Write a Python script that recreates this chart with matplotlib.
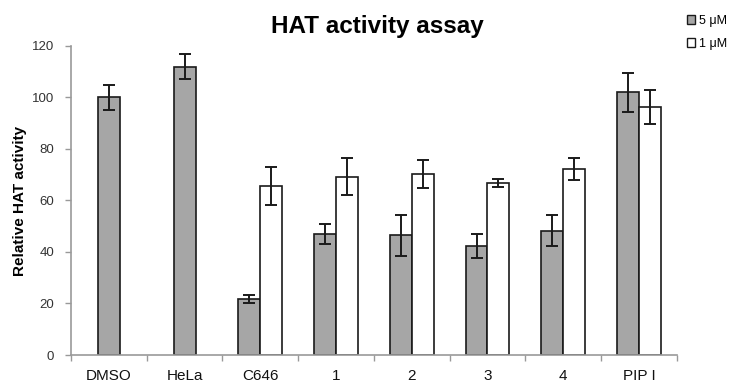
import matplotlib
matplotlib.use("Agg")
import matplotlib.pyplot as plt
import numpy as np
from matplotlib.patches import Patch

plt.rcParams['font.family'] = ['Liberation Sans', 'DejaVu Sans']

categories = ["DMSO", "HeLa", "C646", "1", "2", "3", "4", "PIP I"]
vals_5 = [100, 112, 21.7, 47, 46.5, 42.3, 48.3, 102]
err_5 = [5, 5, 1.6, 4, 8, 4.8, 6, 7.5]
vals_1 = [np.nan, np.nan, 65.6, 69.2, 70.4, 66.9, 72.2, 96.2]
err_1 = [np.nan, np.nan, 7.3, 7.2, 5.4, 1.5, 4.2, 6.5]
yticks = [0, 20, 40, 60, 80, 100, 120]

fig = plt.figure(figsize=(7.29, 3.83), dpi=100)
ax = fig.add_axes([0.0974, 0.0731, 0.831, 0.807])

x = np.arange(len(categories))
w = 0.29
has1 = ~np.isnan(vals_1)
off5 = np.where(has1, -w / 2, 0.0)
ax.bar(x + off5, vals_5, w, color="#a6a6a6", edgecolor="#1a1a1a", linewidth=1.2, zorder=2)
ax.errorbar(x + off5, vals_5, yerr=err_5, fmt="none", ecolor="#1a1a1a", elinewidth=1.4, capsize=4, capthick=1.4, zorder=3)
ax.bar(x[has1] + w / 2, np.array(vals_1)[has1], w, color="white", edgecolor="#1a1a1a", linewidth=1.2, zorder=2)
ax.errorbar(x[has1] + w / 2, np.array(vals_1)[has1], yerr=np.array(err_1)[has1], fmt="none", ecolor="#1a1a1a", elinewidth=1.4, capsize=4, capthick=1.4, zorder=3)

ax.set_xlim(-0.5, len(categories) - 0.5)
ax.set_ylim(0, 120)
ax.set_yticks(yticks)
ax.set_yticklabels([str(t) for t in yticks], fontsize=9.5, color="#333333")
ax.set_xticks(x)
ax.set_xticklabels(categories, fontsize=11, color="#111111")
ax.tick_params(axis='x', length=0, pad=10)
ax.set_xticks(np.arange(-0.5, len(categories)), minor=True)
ax.tick_params(axis='x', which='minor', length=4, color="#999999", width=1, direction='out')
ax.tick_params(axis='y', length=4, color="#999999", width=1, pad=8)
for s in ["top", "right"]:
    ax.spines[s].set_visible(False)
for s in ["left", "bottom"]:
    ax.spines[s].set_color("#999999")
    ax.spines[s].set_linewidth(1.2)

ax.set_ylabel("Relative HAT activity", fontsize=11, fontweight='bold')
ax.yaxis.set_label_coords(-0.073, 0.5)
fig.text(0.518, 0.932, "HAT activity assay", ha='center', va='center', fontsize=17.5, fontweight='bold')

handles = [Patch(facecolor="#a6a6a6", edgecolor="#1a1a1a", label="5 \u03bcM"),
           Patch(facecolor="white", edgecolor="#1a1a1a", label="1 \u03bcM")]
fig.legend(handles=handles, loc='upper left', bbox_to_anchor=(0.935, 0.975), frameon=False,
           fontsize=9, handlelength=0.7, handleheight=0.7, handletextpad=0.3, labelspacing=0.9, borderaxespad=0)

fig.savefig("out.png", dpi=100)
